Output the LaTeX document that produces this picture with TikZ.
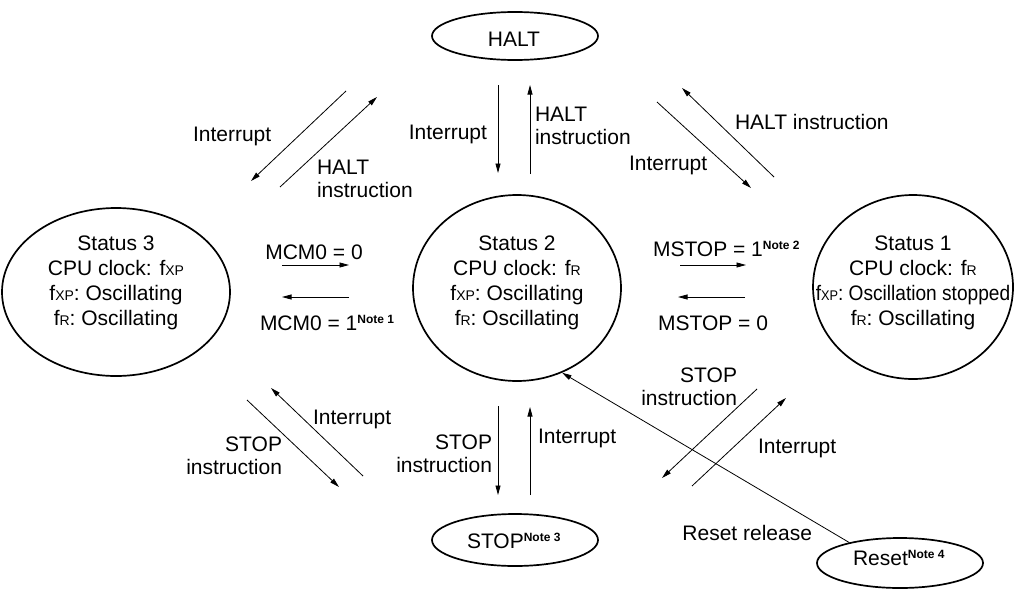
\documentclass[tikz,border=0pt]{standalone}
\usepackage{fontspec}
\setmainfont{Liberation Sans}
\usetikzlibrary{shapes.geometric,arrows.meta}
\newcommand{\myXP}{{\fontsize{14}{14}\selectfont XP}}
\newcommand{\myR}{{\fontsize{14}{14}\selectfont R}}
\newcommand{\mynote}[1]{\raisebox{7pt}{\fontsize{12}{12}\selectfont\bfseries #1}}
\begin{document}
\begin{tikzpicture}[x=1pt,y=-1pt,
  stateell/.style={draw, ellipse, line width=1.7pt, inner sep=0pt},
  txt/.style={font=\fontsize{21}{25}\selectfont, inner sep=0pt, outer sep=0pt},
  lbl/.style={font=\fontsize{21}{23}\selectfont, inner sep=0pt, outer sep=0pt},
  arr/.style={line width=0.8pt, -{Triangle[length=9.5pt,width=5pt]}}]
\useasboundingbox (0,0) rectangle (1016,589);
% ellipses
\node[stateell, minimum width=166pt, minimum height=48pt] (halt) at (515,36) {};
\node[stateell, minimum width=228pt, minimum height=168pt] (s3) at (116,292) {};
\node[stateell, minimum width=208pt, minimum height=186pt] (s2) at (517,288) {};
\node[stateell, minimum width=200pt, minimum height=184pt] (s1) at (913,287) {};
\node[stateell, minimum width=166pt, minimum height=52pt] (stop) at (515,540) {};
\node[stateell, minimum width=166pt, minimum height=50pt] (reset) at (900,563) {};
% ellipse texts
\node[txt, anchor=base] (haltt) at (514,46) {HALT};
\node[txt, anchor=base west] (stopt) at (467,548) {STOP\mynote{Note 3}};
\node[txt, anchor=base west] (resett) at (853,565) {Reset\mynote{Note 4}};
\node[txt, align=center] (s3t) at (116,283) {Status 3\\CPU clock: f\myXP\\f\myXP: Oscillating\\f\myR: Oscillating};
\node[txt, align=center] (s2t) at (517,283) {Status 2\\CPU clock: f\myR\\f\myXP: Oscillating\\f\myR: Oscillating};
\node[txt, align=center] (s1t) at (913,283) {Status 1\\CPU clock: f\myR\\\scalebox{0.91}[1]{f\myXP: Oscillation stopped}\\f\myR: Oscillating};
% arrow end points
\coordinate (a1s) at (346,91);  \coordinate (a1e) at (251,181);
\coordinate (a2s) at (280,187); \coordinate (a2e) at (377,97);
\coordinate (a3s) at (498,85);  \coordinate (a3e) at (498,173);
\coordinate (a4s) at (530,174); \coordinate (a4e) at (530,85);
\coordinate (a5s) at (657,102); \coordinate (a5e) at (751,188);
\coordinate (a6s) at (774,177); \coordinate (a6e) at (682,88);
\coordinate (a7s) at (282,265); \coordinate (a7e) at (349,265);
\coordinate (a8s) at (349,297); \coordinate (a8e) at (282,297);
\coordinate (a9s) at (680,265); \coordinate (a9e) at (746,265);
\coordinate (a10s) at (745,297); \coordinate (a10e) at (678,297);
\coordinate (a11s) at (247,400); \coordinate (a11e) at (339,487);
\coordinate (a12s) at (363,476); \coordinate (a12e) at (271,388);
\coordinate (a13s) at (498,406); \coordinate (a13e) at (498,495);
\coordinate (a14s) at (530,495); \coordinate (a14e) at (530,407);
\coordinate (a15s) at (757,389); \coordinate (a15e) at (662,478);
\coordinate (a16s) at (692,486); \coordinate (a16e) at (786,398);
\foreach \i in {1,...,16} {\draw[arr] (a\i s) -- (a\i e);}
\draw[arr] (reset.158) -- (s2.298);
% labels
\node[lbl, anchor=base west] (l1) at (193,141) {Interrupt};
\node[lbl, anchor=north west, align=left] (l2) at (317,160) {HALT\\instruction};
\node[lbl, anchor=base east] (l3) at (487,139) {Interrupt};
\node[lbl, anchor=north west, align=left] (l4) at (535,107) {HALT\\instruction};
\node[lbl, anchor=base west] (l5) at (629,170) {Interrupt};
\node[lbl, anchor=base west] (l6) at (735,129) {HALT instruction};
\node[lbl, anchor=base] (l7) at (314,259) {MCM0 = 0};
\node[lbl, anchor=base west] (l8) at (260,330) {MCM0 = 1\mynote{Note 1}};
\node[lbl, anchor=base west] (l9) at (653,256) {MSTOP = 1\mynote{Note 2}};
\node[lbl, anchor=base] (l10) at (713,330) {MSTOP = 0};
\node[lbl, anchor=base west] (l11) at (313,424) {Interrupt};
\node[lbl, anchor=north east, align=right] (l12) at (282,437) {STOP\\instruction};
\node[lbl, anchor=north east, align=right] (l13) at (492,435) {STOP\\instruction};
\node[lbl, anchor=base west] (l14) at (538,443) {Interrupt};
\node[lbl, anchor=north east, align=right] (l15) at (737,368) {STOP\\instruction};
\node[lbl, anchor=base west] (l16) at (758,453) {Interrupt};
\node[lbl, anchor=base east] (l17) at (812,540) {Reset release};
\end{tikzpicture}
\end{document}
